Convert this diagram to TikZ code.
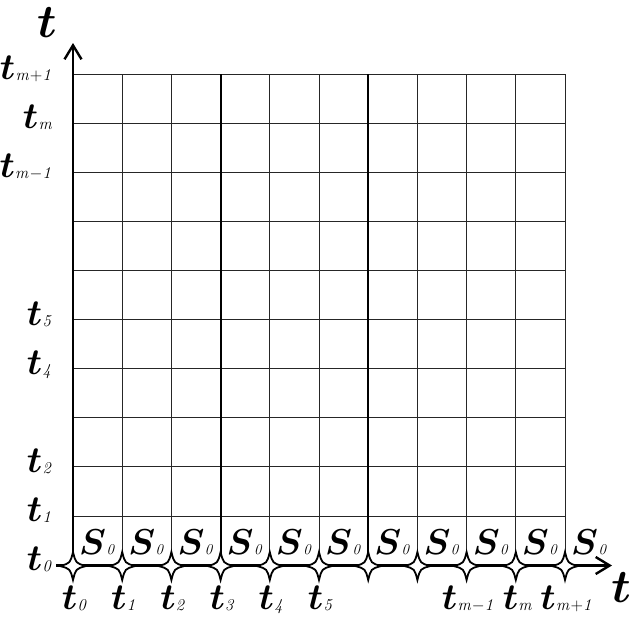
\RequirePackage{fix-cm}
\documentclass[tikz,border=0pt]{standalone}
\usepackage{bm}
\usetikzlibrary{arrows.meta}
\newcommand{\tsub}[1]{{\fontsize{37}{37}\selectfont$\bm{t}$}\kern0.3pt\raisebox{-1.5pt}{\fontsize{16.5}{16.5}\selectfont$\mathit{#1}$}}
\newcommand{\ssub}{{\fontsize{36}{36}\selectfont$\bm{S}$}\kern0.5pt{\fontsize{15}{15}\selectfont$\mathit{0}$}}
\newcommand{\bigt}{{\fontsize{47}{47}\selectfont$\bm{t}$}}
\tikzset{
  gridline/.style={line width=0.8pt, black!85},
  boldline/.style={line width=1.8pt, black},
  axisline/.style={line width=2.6pt, black, -{Straight Barb[length=14pt,width=17pt,line width=2.4pt]}},
  lab/.style={inner sep=0pt, outer sep=0pt},
  fourstar/.pic={\draw[line width=1.8pt,fill=white] (0,-14) .. controls (2.8,-2.8) .. (13,0) .. controls (2.8,2.8) .. (0,14) .. controls (-2.8,2.8) .. (-13,0) .. controls (-2.8,-2.8) .. cycle;}
}
\begin{document}
\begin{tikzpicture}[x=1pt,y=-1pt]
\useasboundingbox (0,0) rectangle (631,616);
% grid
\foreach \j in {1,...,10}{
  \draw[gridline] (73,565-49.1*\j) -- (565,565-49.1*\j);
}
\foreach \k in {1,2,4,5,7,8,9,10}{
  \draw[gridline] (73+49.2*\k,74) -- (73+49.2*\k,565);
}
\foreach \k in {3,6}{
  \draw[boldline] (73+49.2*\k,74) -- (73+49.2*\k,565);
}
% axes
\coordinate (o) at (73,565.5);
\coordinate (ytop) at (73,43);
\coordinate (xleft) at (56,565.5);
\coordinate (xright) at (612,565.5);
\draw[axisline] (o) -- (ytop);
\draw[axisline] (xleft) -- (xright);
% stars
\foreach \k in {0,...,10}{
  \pic (st\k) at (73+49.2*\k,566) {fourstar};
}
% S_0 labels
\foreach \k in {0,...,10}{
  \node[lab, anchor=base] (s\k) at (97.6+49.2*\k,554) {\ssub};
}
% left labels
\node[lab, anchor=base east] (l10) at (53,79) {\tsub{m{+}1}};
\node[lab, anchor=base east] (l9) at (53,128) {\tsub{m}};
\node[lab, anchor=base east] (l8) at (53,177) {\tsub{m{-}1}};
\node[lab, anchor=base east] (l5) at (53,325) {\tsub{5}};
\node[lab, anchor=base east] (l4) at (53,374) {\tsub{4}};
\node[lab, anchor=base east] (l2) at (53,472) {\tsub{2}};
\node[lab, anchor=base east] (l1) at (53,521) {\tsub{1}};
\node[lab, anchor=base east] (l0) at (53,570) {\tsub{0}};
% bottom labels
\node[lab, anchor=base] (b0) at (75+49.2*0,609) {\tsub{0}};
\node[lab, anchor=base] (b1) at (75+49.2*1,609) {\tsub{1}};
\node[lab, anchor=base] (b2) at (75+49.2*2,609) {\tsub{2}};
\node[lab, anchor=base] (b3) at (75+49.2*3,609) {\tsub{3}};
\node[lab, anchor=base] (b4) at (75+49.2*4,609) {\tsub{4}};
\node[lab, anchor=base] (b5) at (75+49.2*5,609) {\tsub{5}};
\node[lab, anchor=base] (b8) at (75+49.2*8,609) {\tsub{m{-}1}};
\node[lab, anchor=base] (b9) at (75+49.2*9,609) {\tsub{m}};
\node[lab, anchor=base] (b10) at (75+49.2*10,609) {\tsub{m{+}1}};
% axis titles
\node[lab, anchor=base] (ty) at (47,37) {\bigt};
\node[lab, anchor=base] (tx) at (621,602) {\bigt};
\end{tikzpicture}
\end{document}
